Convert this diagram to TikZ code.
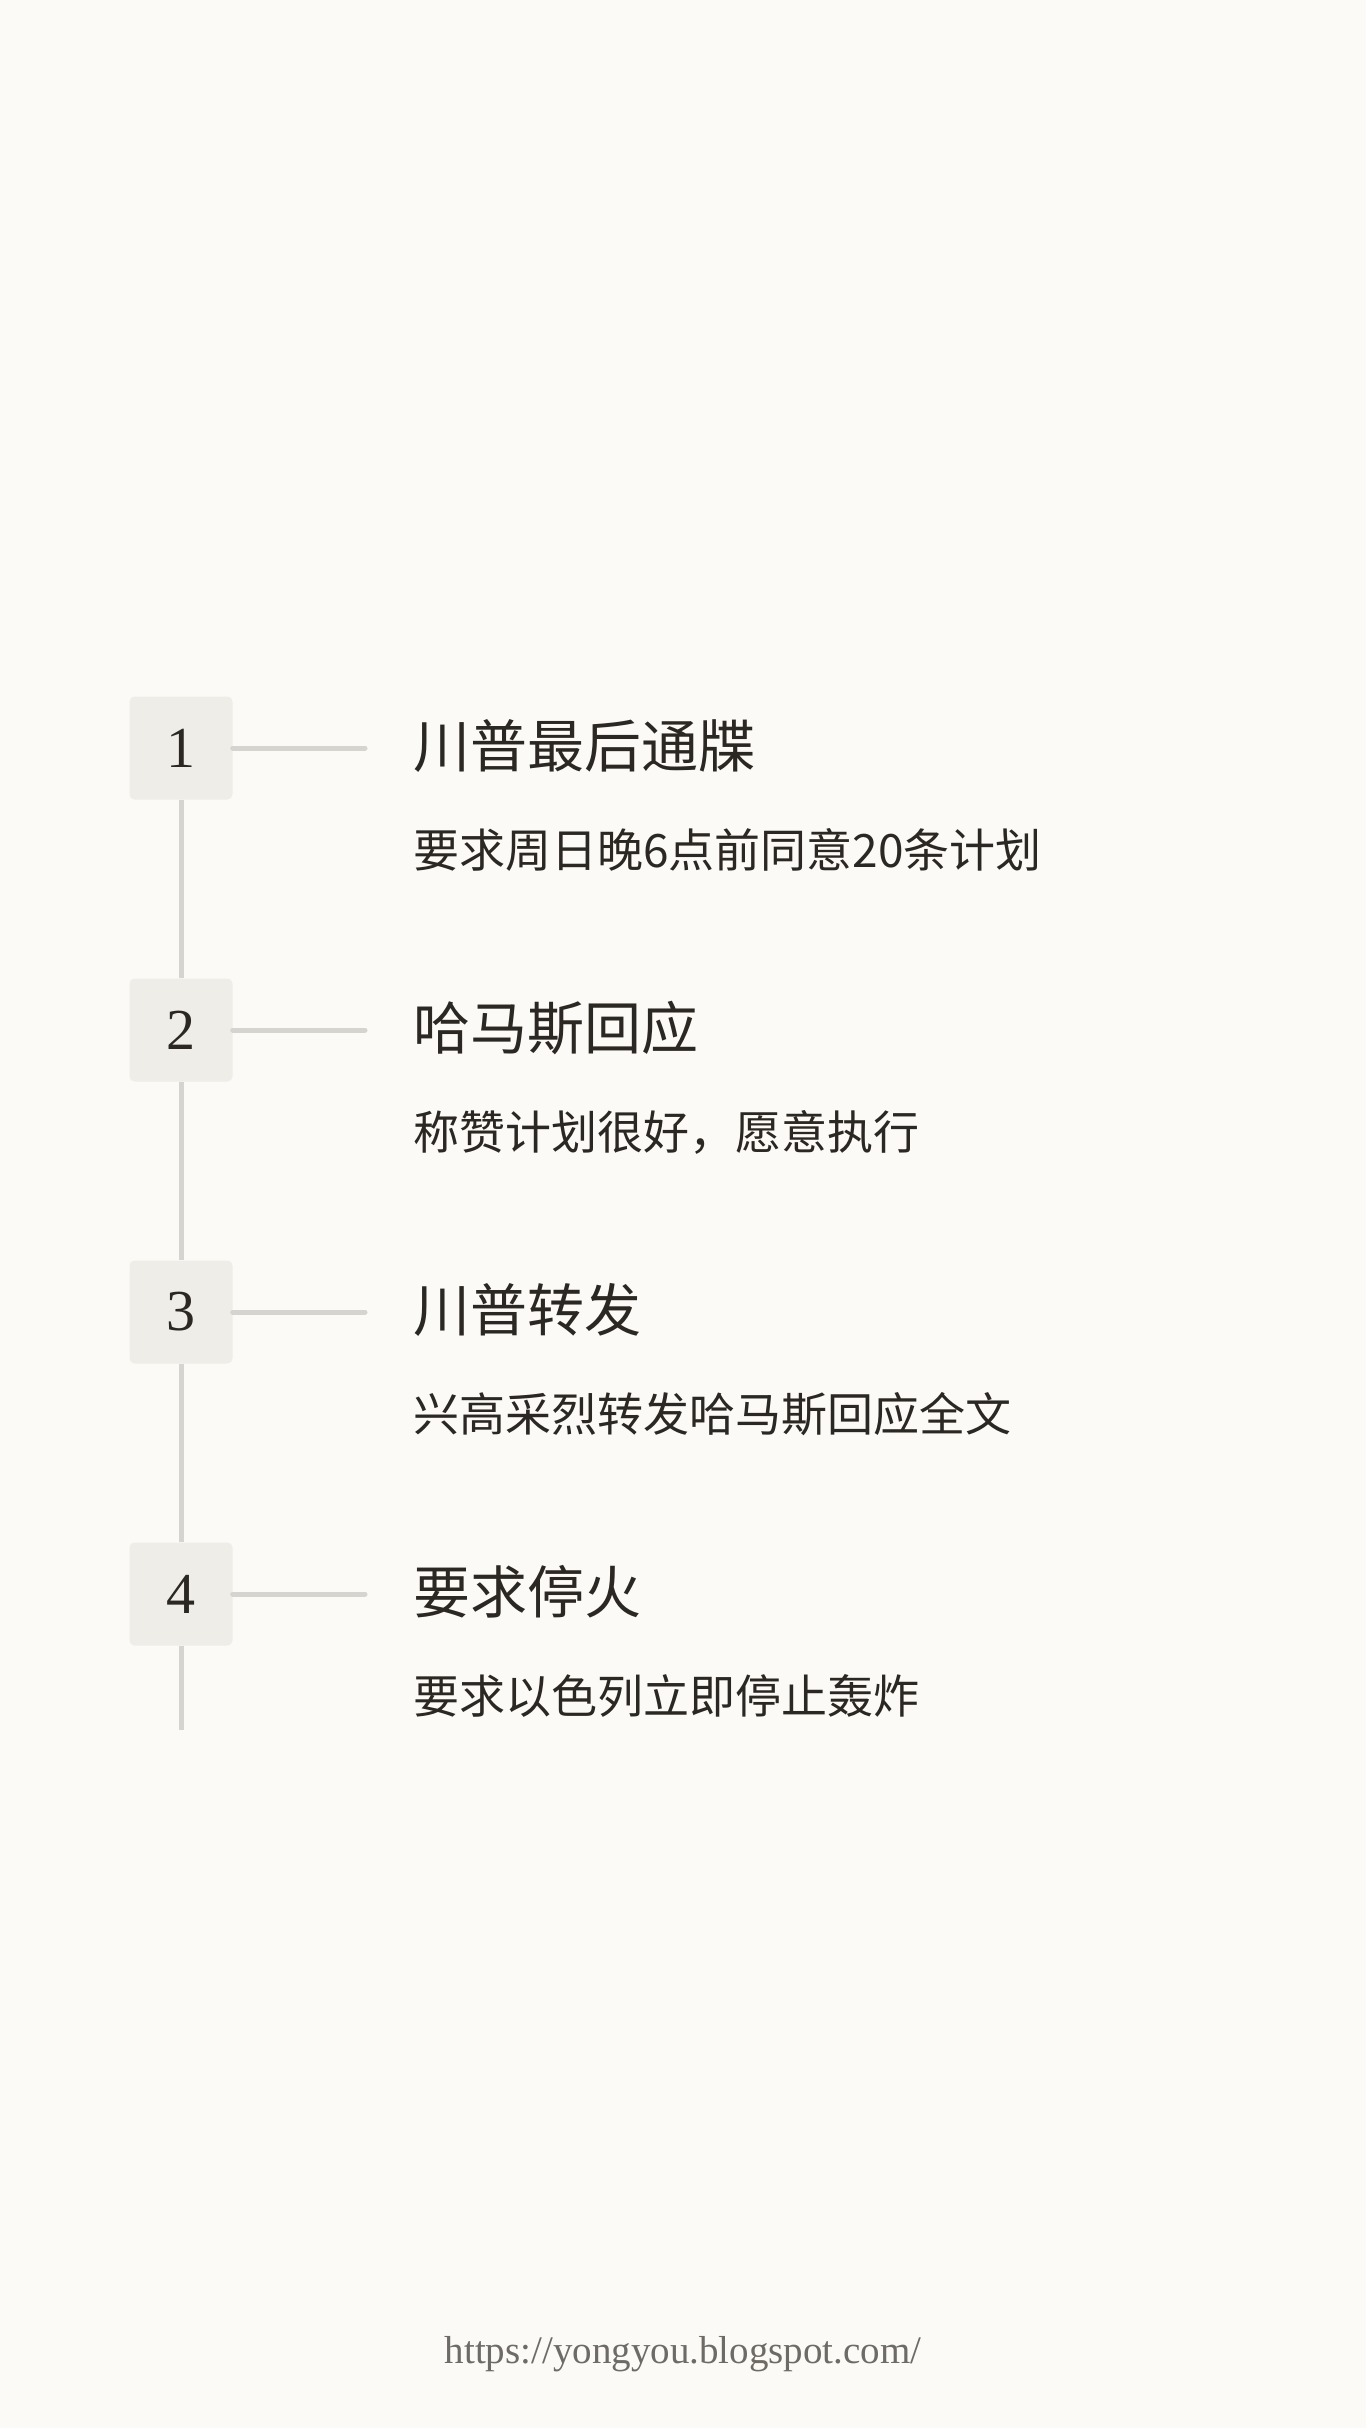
\documentclass[tikz,border=0pt]{standalone}
\usepackage{fontspec}
\setmainfont{Liberation Serif}
\newfontfamily\cjk{Noto Sans CJK SC}
\definecolor{pageBg}{HTML}{FBFAF7}
\definecolor{stepBg}{HTML}{EFEDE8}
\definecolor{railGray}{HTML}{D6D4CF}
\definecolor{inkDark}{HTML}{2B2722}
\definecolor{urlGray}{HTML}{6E6B66}
\usetikzlibrary{positioning}

\begin{document}
\begin{tikzpicture}[
  x=1pt, y=-1pt,
  numbox/.style={fill=stepBg, rounded corners=5pt, minimum width=103pt, minimum height=103pt, inner sep=0pt, text=inkDark, font=\fontsize{58}{58}\selectfont},
  rail/.style={draw=railGray, line width=5pt},
  headline/.style={anchor=base west, inner sep=0pt, text=inkDark, font=\cjk\fontsize{57}{57}\selectfont},
  detail/.style={anchor=base west, inner sep=0pt, text=inkDark, font=\cjk\fontsize{46}{46}\selectfont}
]
  \fill[pageBg] (0,0) rectangle (1366,2428);
  \useasboundingbox (0,0) rectangle (1366,2428);

  \foreach \i/\head/\body in {1/川普最后通牒/要求周日晚6点前同意20条计划,
                              2/哈马斯回应/称赞计划很好，愿意执行,
                              3/川普转发/兴高采烈转发哈马斯回应全文,
                              4/要求停火/要求以色列立即停止轰炸}
  {
    \node[numbox] (num\i) at (181, {748+282*(\i-1)}) {\i};
    \node[headline] (head\i) at (413, {767+282*(\i-1)}) {\head};
    \node[detail] (body\i) at (413, {867+282*(\i-1)}) {\body};
    \coordinate (tick\i) at (365, {748+282*(\i-1)});
    \draw[rail, line cap=round] (num\i) -- (tick\i);
  }

  \foreach \a/\b in {num1/num2, num2/num3, num3/num4}
    \draw[rail] (\a) -- (\b);
  \coordinate (railEnd) at (181, 1730);
  \draw[rail] (num4) -- (railEnd);

  \node[text=urlGray, font=\fontsize{39}{39}\selectfont] (url) at (683, 2354) {https://yongyou.blogspot.com/};
\end{tikzpicture}
\end{document}
